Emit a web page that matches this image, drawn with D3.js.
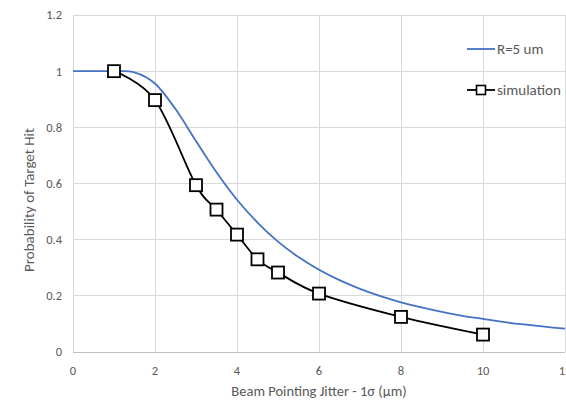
<!DOCTYPE html>
<html>
<head>
<meta charset="utf-8">
<script src="https://cdn.jsdelivr.net/npm/d3@7"></script>
<style>
  body { margin: 0; background: #fff; }
  text { font-family: Carlito, "Open Sans", "Liberation Sans", sans-serif; fill: #595959; }
</style>
</head>
<body>
<svg width="566" height="400"></svg>
<script>
// values
const modelSigma = [0, 0.5, 1, 1.5, 2, 2.5, 3, 3.5, 4, 4.5, 5, 5.5, 6, 6.5, 7, 7.5, 8, 8.5, 9, 9.5, 10, 10.5, 11, 11.5, 12];
const modelHit = [1, 1, 1, 0.996, 0.956, 0.865, 0.751, 0.64, 0.542, 0.461, 0.393, 0.338, 0.293, 0.256, 0.225, 0.199, 0.177, 0.159, 0.143, 0.129, 0.118, 0.107, 0.098, 0.09, 0.083];
const simSigma = [1, 2, 3, 3.5, 4, 4.5, 5, 6, 8, 10];
const simHit = [1, 0.897, 0.594, 0.507, 0.418, 0.33, 0.283, 0.208, 0.125, 0.062];
const xTicks = [0, 2, 4, 6, 8, 10, 12];
const yTicks = [0, 0.2, 0.4, 0.6, 0.8, 1, 1.2];
const seriesNames = ['R=5 um', 'simulation'];

const svg = d3.select('svg');

const x = d3.scaleLinear().domain([0, 12]).range([73, 565]);
const y = d3.scaleLinear().domain([0, 1.2]).range([352, 15]);

// grid
svg.append('g').selectAll('line').data(yTicks)
  .enter().append('line')
    .attr('x1', x(0)).attr('x2', x(12))
    .attr('y1', d => y(d)).attr('y2', d => y(d))
    .attr('stroke', d => d === 0 ? '#bfbfbf' : '#d9d9d9')
    .attr('shape-rendering', 'crispEdges');

svg.append('g').selectAll('line').data(xTicks)
  .enter().append('line')
    .attr('x1', d => x(d)).attr('x2', d => x(d))
    .attr('y1', y(1.2)).attr('y2', y(0))
    .attr('stroke', '#d9d9d9')
    .attr('shape-rendering', 'crispEdges');

// tick labels
svg.append('g').selectAll('text').data(yTicks)
  .enter().append('text')
    .attr('x', 62).attr('y', d => y(d))
    .attr('dy', '0.35em')
    .attr('text-anchor', 'end')
    .attr('font-size', 12.5)
    .text(d => d3.format('~g')(d));

svg.append('g').selectAll('text').data(xTicks)
  .enter().append('text')
    .attr('x', d => x(d)).attr('y', 375)
    .attr('text-anchor', 'middle')
    .attr('font-size', 12.5)
    .text(d => d);

// axis titles
svg.append('text')
  .attr('x', (x(0) + x(12)) / 2).attr('y', 396)
  .attr('text-anchor', 'middle')
  .attr('font-size', 14.5)
  .text('Beam Pointing Jitter - 1σ (μm)');

svg.append('text')
  .attr('transform', 'translate(34,200) rotate(-90)')
  .attr('text-anchor', 'middle')
  .attr('font-size', 15)
  .text('Probability of Target Hit');

// lines
const line = d3.line()
  .x(d => x(d[0])).y(d => y(d[1]))
  .curve(d3.curveCatmullRom.alpha(0));

svg.append('path')
  .datum(d3.zip(modelSigma, modelHit))
  .attr('d', line)
  .attr('fill', 'none')
  .attr('stroke', '#4472c4')
  .attr('stroke-width', 1.8);

const simData = d3.zip(simSigma, simHit);
svg.append('path')
  .datum(simData)
  .attr('d', line)
  .attr('fill', 'none')
  .attr('stroke', '#000')
  .attr('stroke-width', 1.8);

const sq = 12;
svg.append('g').selectAll('rect').data(simData)
  .enter().append('rect')
    .attr('x', d => x(d[0]) - sq / 2)
    .attr('y', d => y(d[1]) - sq / 2)
    .attr('width', sq).attr('height', sq)
    .attr('fill', '#fff')
    .attr('stroke', '#000')
    .attr('stroke-width', 1.8);

// legend
const legend = svg.append('g').attr('transform', 'translate(467,49)');
legend.append('line')
  .attr('x1', 0).attr('x2', 28)
  .attr('stroke', '#4472c4').attr('stroke-width', 1.8);
legend.append('text')
  .attr('x', 30).attr('dy', '0.35em')
  .attr('font-size', 15)
  .text(seriesNames[0]);

const leg2 = legend.append('g').attr('transform', 'translate(0,41)');
leg2.append('line')
  .attr('x1', 0).attr('x2', 28)
  .attr('stroke', '#000').attr('stroke-width', 1.8);
leg2.append('rect')
  .attr('x', 14 - 4.5).attr('y', -4.5)
  .attr('width', 9).attr('height', 9)
  .attr('fill', '#fff').attr('stroke', '#000').attr('stroke-width', 1.6);
leg2.append('text')
  .attr('x', 30).attr('dy', '0.35em')
  .attr('font-size', 15)
  .text(seriesNames[1]);
</script>
</body>
</html>
